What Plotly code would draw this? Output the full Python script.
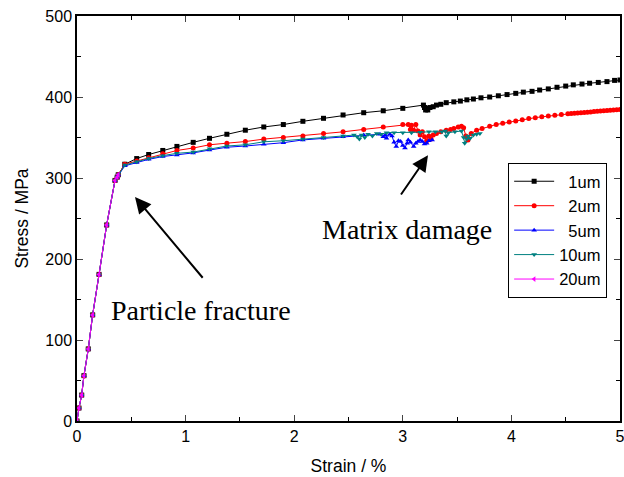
import plotly.graph_objects as go

# ---- data ----
elastic_strain = [0, 0.018, 0.043, 0.064, 0.104, 0.144, 0.203, 0.273, 0.35, 0.37, 0.38]
elastic_stress = [0, 16, 32, 56, 89, 131, 181, 242, 297, 301, 304]

strain_1um = [0.44, 0.55, 0.66, 0.79, 0.92, 1.07, 1.22, 1.38, 1.55, 1.72, 1.90, 2.08, 2.27, 2.45,
              2.64, 2.82, 3.00, 3.19, 3.20, 3.21, 3.22, 3.23, 3.25, 3.28, 3.31, 3.35, 3.40, 3.47,
              3.53, 3.59, 3.65, 3.72, 3.80, 3.88, 3.96, 4.04, 4.11, 4.19, 4.26, 4.34, 4.42, 4.50,
              4.57, 4.65, 4.72, 4.80, 4.88, 4.95, 5.00]
stress_1um = [317, 324, 329, 334, 339, 344, 349, 354, 359, 363, 366, 370, 373.7, 377.8,
              380.6, 383, 386, 390, 387, 384, 386, 384, 387, 388, 390, 391, 393, 394,
              395, 396.5, 397.5, 399, 400, 401.5, 403, 404.5, 406, 407, 408.6, 410, 412, 413.5,
              415, 416, 417, 418, 419, 420.5, 421]

strain_2um = [0.44, 0.55, 0.66, 0.79, 0.92, 1.07, 1.22, 1.38, 1.55, 1.72, 1.90, 2.08, 2.27, 2.45,
              2.64, 2.82, 3.00, 3.05, 3.07, 3.08, 3.10, 3.12, 3.14, 3.16, 3.18, 3.20, 3.22, 3.24,
              3.26, 3.28, 3.31, 3.35, 3.40, 3.44, 3.47, 3.51, 3.54, 3.56, 3.58, 3.60, 3.63, 3.68,
              3.73, 3.80, 3.86, 3.92, 3.98, 4.04, 4.10, 4.16, 4.22, 4.28, 4.34, 4.40, 4.46, 4.52,
              4.55, 4.58, 4.61, 4.64, 4.67, 4.70, 4.73, 4.76, 4.79, 4.82, 4.85, 4.88, 4.91, 4.94,
              4.97, 5.00]
stress_2um = [317, 321, 325, 330, 334, 337, 341, 343, 345, 348, 350, 352, 355, 357,
              360, 363, 366, 366, 360, 365, 359, 366, 358, 353, 357, 351, 346, 352,
              348, 353, 355, 357, 359, 360, 361, 363, 364, 362, 352, 347, 355, 359,
              361, 364, 366, 367.5, 369, 370.5, 372, 373.5, 374.5, 375.5, 376.5, 377.5, 378.5, 379.3,
              379.6, 380, 380.4, 380.7, 381, 381.3, 381.6, 382, 382.3, 382.7, 383, 383.3, 383.6, 384,
              384.3, 384.6]

strain_5um = [0.44, 0.55, 0.66, 0.79, 0.92, 1.07, 1.22, 1.38, 1.55, 1.72, 1.90, 2.08, 2.27, 2.45,
              2.64, 2.79, 2.82, 2.84, 2.85, 2.88, 2.90, 2.92, 2.94, 2.96, 2.98, 3.00, 3.02, 3.04,
              3.05, 3.07, 3.10, 3.12, 3.14, 3.16, 3.18, 3.20, 3.22, 3.24, 3.27]
stress_5um = [315, 319, 323, 326.5, 328.5, 331, 334.5, 338, 339.5, 341.6, 343.6, 347, 349, 351,
              353, 354, 351, 353, 349, 354, 352, 344, 339, 346, 345, 340, 337, 343,
              347, 344, 339, 343, 345, 347, 345, 342, 343, 346, 347]

strain_10um = [0.44, 0.55, 0.66, 0.79, 0.92, 1.07, 1.22, 1.38, 1.55, 1.72, 1.90, 2.08, 2.27, 2.45,
               2.55, 2.58, 2.60, 2.62, 2.65, 2.68, 2.72, 2.76, 2.80, 2.85, 2.92, 3.00, 3.08, 3.16,
               3.24, 3.30, 3.36, 3.39, 3.40, 3.42, 3.48, 3.54, 3.56, 3.57, 3.59, 3.60, 3.62, 3.65,
               3.68, 3.71]
stress_10um = [316, 320, 324, 327.6, 330.5, 332, 336, 339.5, 341, 344.7, 346, 348, 350, 352,
               353, 351, 348, 353, 350, 354, 352, 355, 354, 356, 356, 356, 356, 356.5,
               357, 357, 357, 358, 352, 356, 357, 358, 350, 343, 348, 352, 349, 353,
               354, 355]

series_names = ["\u20071um", "\u20072um", "\u20075um", "10um", "20um"]
series_colors = ["#000000", "#FF0000", "#0000FF", "#008080", "#FF00FF"]
series_symbols = ["square", "circle", "triangle-up", "triangle-down", "triangle-left"]
series_strain = [elastic_strain + strain_1um, elastic_strain + strain_2um,
                 elastic_strain + strain_5um, elastic_strain + strain_10um, elastic_strain]
series_stress = [elastic_stress + stress_1um, elastic_stress + stress_2um,
                 elastic_stress + stress_5um, elastic_stress + stress_10um, elastic_stress]

fig = go.Figure()
for name, col, sym, xs, ys in zip(series_names, series_colors, series_symbols,
                                   series_strain, series_stress):
    fig.add_trace(go.Scatter(
        x=xs, y=ys, mode="lines+markers", name=name,
        line=dict(color=col, width=1),
        marker=dict(symbol=sym, size=5, color=col, line=dict(width=0)),
    ))

serif = "Liberation Serif, Times New Roman, serif"
fig.add_annotation(x=1.142, y=136, xref="x", yref="y", text="Particle fracture",
                   showarrow=False, font=dict(family=serif, size=28, color="black"))
fig.add_annotation(x=3.04, y=237, xref="x", yref="y", text="Matrix damage",
                   showarrow=False, font=dict(family=serif, size=28, color="black"))
# arrows
fig.add_annotation(x=0.534, y=276.5, ax=1.169, ay=175, xref="x", yref="y",
                   axref="x", ayref="y", text="", showarrow=True,
                   arrowhead=2, arrowsize=1.6, arrowwidth=2, arrowcolor="black")
fig.add_annotation(x=3.232, y=328, ax=2.974, ay=277.8, xref="x", yref="y",
                   axref="x", ayref="y", text="", showarrow=True,
                   arrowhead=2, arrowsize=1.6, arrowwidth=2, arrowcolor="black")

sans = "Liberation Sans, Arial, sans-serif"
axfont = dict(family=sans, size=16, color="black")
fig.update_layout(
    width=624, height=477,
    margin=dict(l=77, r=4, t=16, b=56),
    paper_bgcolor="white", plot_bgcolor="white",
    font=axfont,
    showlegend=True,
    legend=dict(x=0.794, y=0.637, xanchor="left", yanchor="top",
                bordercolor="black", borderwidth=1, bgcolor="white",
                font=dict(family=sans, size=16.5, color="black"),
                tracegroupgap=0, itemwidth=40),
    xaxis=dict(range=[0, 5], dtick=1, ticks="inside", ticklen=6, tickwidth=1,
               showline=True, linecolor="black", linewidth=1.5, mirror="ticks",
               showgrid=False, zeroline=False, tickfont=axfont, automargin=False,
               ticklabeloverflow="allow",
               minor=dict(ticks="inside", ticklen=4, dtick=0.5, tickcolor="black"),
               title=dict(text="Strain / %", font=dict(family=sans, size=17.5), standoff=16)),
    yaxis=dict(range=[0, 500], dtick=100, ticks="inside", ticklen=6, tickwidth=1,
               showline=True, linecolor="black", linewidth=1.5, mirror="ticks",
               showgrid=False, zeroline=False, tickfont=axfont, automargin=False,
               ticklabeloverflow="allow",
               minor=dict(ticks="inside", ticklen=4, dtick=50, tickcolor="black"),
               title=dict(text="Stress / MPa", font=dict(family=sans, size=17.5), standoff=12)),
)

fig.write_html("out.html", config={"displayModeBar": False},
               post_script="document.body.style.margin='0';document.body.style.overflow='hidden';")
